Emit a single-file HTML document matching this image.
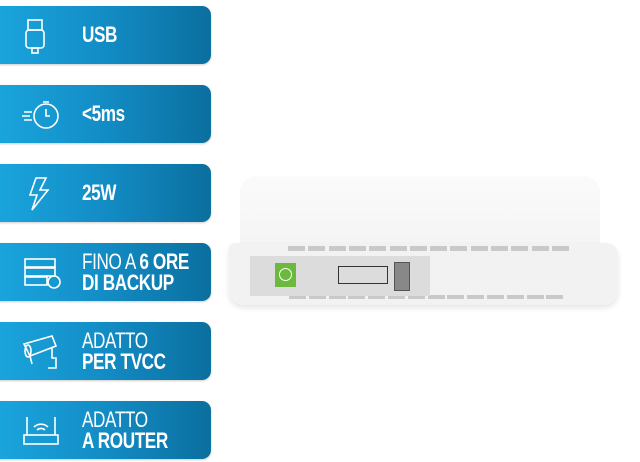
<!DOCTYPE html><html><head><style>
body{margin:0;width:640px;height:462px;background:#fff;position:relative;overflow:hidden;font-family:"Liberation Sans",sans-serif}
.p{position:absolute;left:-10px;width:221px;height:58px;border-radius:0 9px 9px 0;background:linear-gradient(90deg,#1ba6de 0%,#138dc6 50%,#0b6f9f 100%);box-shadow:0 1px 2px rgba(0,0,0,.2)}
.t{position:absolute;left:92px;color:#fff;font-size:22px;line-height:21px;letter-spacing:-0.5px;white-space:nowrap;transform:scaleX(0.78);transform-origin:0 0}
.t b{font-weight:bold}.l{font-weight:normal}
.p svg{position:absolute;left:32px;top:12px}
.v{position:absolute;width:17px;height:5px;background:#c9c9c9}
</style></head><body>
<div class="p" style="top:6px"><svg width="34" height="36" fill="none" stroke="#fff" stroke-width="1.6"><rect x="6" y="2" width="14" height="10"/><rect x="4" y="12" width="18" height="18" rx="3"/><rect x="10" y="30" width="6" height="5"/></svg><div class="t" style="top:18px"><b>USB</b></div></div>
<div class="p" style="top:85px"><svg width="40" height="36" fill="none" stroke="#fff" stroke-width="1.6"><circle cx="24" cy="19" r="12"/><path d="M21 5h6M24 12v7h4M2 15h8M0 19h8M2 23h8"/></svg><div class="t" style="top:18px"><b>&lt;5ms</b></div></div>
<div class="p" style="top:164px"><svg width="34" height="36" fill="none" stroke="#fff" stroke-width="1.6"><path d="M14 2h10l-6 12h8L10 34l5-15H8z"/></svg><div class="t" style="top:18px"><b>25W</b></div></div>
<div class="p" style="top:243px"><svg width="40" height="36" fill="none" stroke="#fff" stroke-width="1.6"><rect x="3" y="4" width="30" height="8"/><rect x="3" y="13" width="30" height="8"/><rect x="3" y="22" width="22" height="8"/><circle cx="32" cy="27" r="6"/></svg><div class="t" style="top:8px"><span class="l">FINO A </span><b>6 ORE</b><br><b>DI BACKUP</b></div></div>
<div class="p" style="top:322px"><svg width="40" height="36" fill="none" stroke="#fff" stroke-width="1.6"><path d="M2 10l28-8 4 10-26 10zM8 22l2 8M30 14v10h4v10h-8"/><ellipse cx="6" cy="17" rx="3" ry="6"/></svg><div class="t" style="top:8px"><span class="l">ADATTO</span><br><b>PER TVCC</b></div></div>
<div class="p" style="top:401px"><svg width="40" height="36" fill="none" stroke="#fff" stroke-width="1.6"><rect x="2" y="22" width="34" height="9"/><path d="M5 22V4M33 22V4M12 14a10 10 0 0 1 14 0M15 17a6 6 0 0 1 8 0"/></svg><div class="t" style="top:8px"><span class="l">ADATTO</span><br><b>A ROUTER</b></div></div>

<div style="position:absolute;left:240px;top:176px;width:360px;height:74px;background:linear-gradient(#fbfbfb,#f4f4f4);border-radius:16px 16px 4px 4px"></div>
<div style="position:absolute;left:229px;top:243px;width:389px;height:62px;background:#f2f2f2;border-radius:6px 12px 14px 14px;box-shadow:0 3px 6px rgba(0,0,0,.1)"></div>
<div id="vt"></div>
<div style="position:absolute;left:250px;top:256px;width:180px;height:40px;background:#dcdcdc"></div>
<div style="position:absolute;left:275px;top:263px;width:21px;height:24px;background:#6cb93d"><div style="position:absolute;left:4px;top:5px;width:11px;height:11px;border:1.5px solid #fff;border-radius:50%"></div></div>
<div style="position:absolute;left:338px;top:266px;width:48px;height:16px;border:1px solid #333"></div>
<div style="position:absolute;left:394px;top:262px;width:14px;height:27px;background:#888;border:1px solid #555"></div>
<script>
var s='';for(var i=0;i<14;i++){s+='<div class="v" style="left:'+(288+i*20.3)+'px;top:246px"></div><div class="v" style="left:'+(289+i*19.8)+'px;top:295px;height:4px"></div>';}
document.getElementById('vt').innerHTML=s;
</script>
</body></html>
